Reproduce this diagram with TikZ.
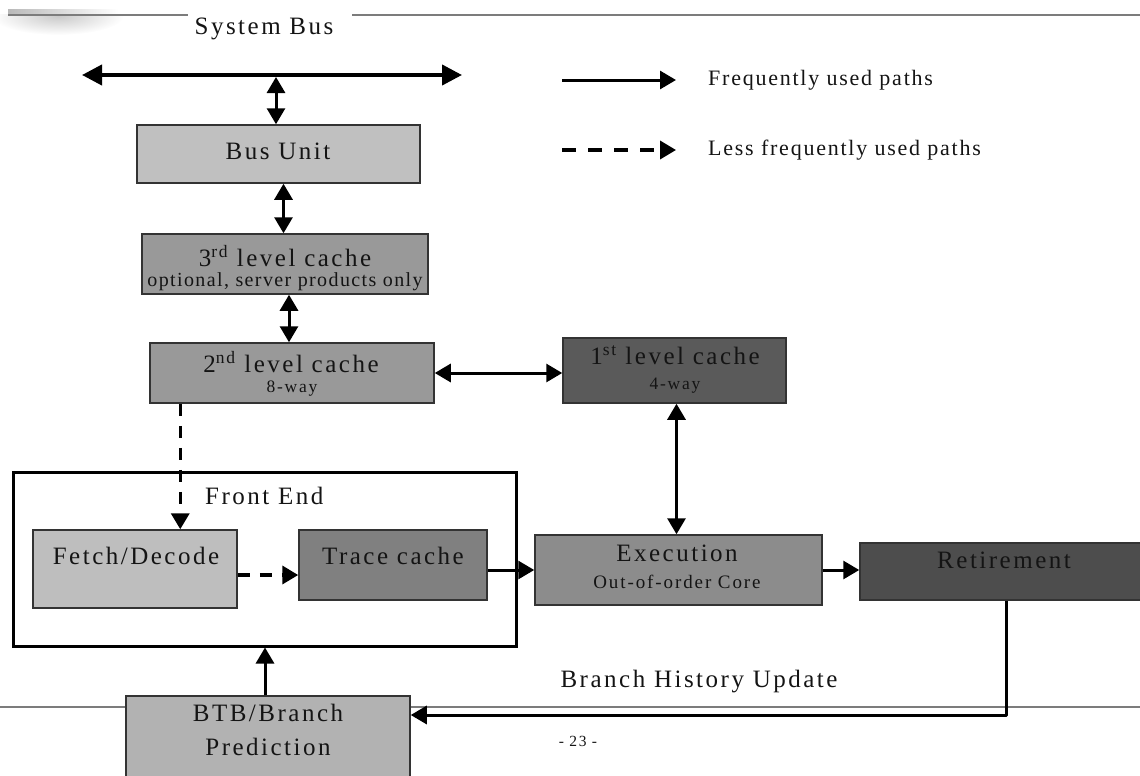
\documentclass[tikz,border=0pt]{standalone}
\usepackage{fontspec}
\setmainfont{Liberation Serif}[LetterSpace=10]
\newfontfamily\subfont{Liberation Serif}[LetterSpace=7]
\newfontfamily\legfont{Liberation Serif}[LetterSpace=8]
\usetikzlibrary{arrows.meta,fadings}

\definecolor{ink}{HTML}{141414}
\definecolor{edge}{HTML}{333333}
\definecolor{slide}{HTML}{7C7C7C}
\definecolor{cBus}{HTML}{C0C0C0}
\definecolor{cLthree}{HTML}{999999}
\definecolor{cLtwo}{HTML}{999999}
\definecolor{cLone}{HTML}{5A5A5A}
\definecolor{cFetch}{HTML}{BEBEBE}
\definecolor{cTrace}{HTML}{808080}
\definecolor{cExec}{HTML}{8C8C8C}
\definecolor{cRet}{HTML}{4D4D4D}
\definecolor{cBtb}{HTML}{B2B2B2}

\tikzset{
  >={Triangle[length=16pt,width=18pt]},
  box/.style={draw=edge, line width=1.5pt, inner sep=0pt},
  lbl/.style={text=ink, inner sep=0pt, font=\fontsize{25}{27}\selectfont},
  sub/.style={text=ink, inner sep=0pt, font=\fontsize{17.5}{19}\selectfont},
  arr/.style={draw=black, line width=3pt, ->},
  dbl/.style={draw=black, line width=3pt, <->},
  dsh/.style={draw=black, line width=3.5pt, dash pattern=on 12pt off 10pt, ->},
}

\begin{document}
\begin{tikzpicture}[x=1pt,y=-1pt]
\useasboundingbox (0,0) rectangle (1140,776);
\clip (0,0) rectangle (1140,776);

% slide decoration: soft shadow round the top rule, rule at the foot
\begin{scope}
  \clip (0,15) rectangle (160,45);
  \shade[inner color=gray!42, outer color=white] (58,16) ellipse (66 and 19);
\end{scope}
\fill[gray!55, path fading=east] (8,9) rectangle (118,15);
\draw[slide, line width=2.5pt] (8,15) -- (188,15);
\draw[slide, line width=2pt] (352,15) -- (1140,15);
\draw[slide, line width=1.5pt] (0,707) -- (1140,707);

% title and legend
\node[lbl] (title) at (264,29) {System Bus};
\coordinate (legA1) at (562,80);
\coordinate (legA2) at (676,80);
\coordinate (legB1) at (562,150);
\coordinate (legB2) at (676,150);
\draw[arr] (legA1) -- (legA2);
\draw[dsh, dash pattern=on 14pt off 12pt] (legB1) -- (legB2);
\node[lbl, anchor=west, font=\fontsize{22}{24}\selectfont\legfont] (legAt) at (708,80) {Frequently used paths};
\node[lbl, anchor=west, font=\fontsize{22}{24}\selectfont\legfont] (legBt) at (708,150) {Less frequently used paths};

% system bus
\coordinate (busL) at (82,75);
\coordinate (busR) at (462,75);
\coordinate (busJ) at (276,77);
\draw[line width=4pt, {Triangle[length=20pt,width=20pt]}-{Triangle[length=20pt,width=20pt]}] (busL) -- (busR);

% front end frame
\node[draw=black, fill=white, line width=3pt, minimum width=503pt, minimum height=174pt] (fe) at (264.5,559) {};
\node[lbl, anchor=west] (feT) at (205,496) {Front End};

% units
\node[box, fill=cBus, minimum width=283pt, minimum height=58pt] (bu) at (278.5,154) {};
\node[lbl] (buT) at (278,151) {Bus Unit};

\node[box, fill=cLthree, minimum width=286pt, minimum height=60pt] (l3) at (285,264) {};
\node[lbl] (l3T) at (285,256) {3\textsuperscript{rd} level cache};
\node[sub, font=\fontsize{20}{22}\selectfont\subfont] (l3S) at (285,282) {optional, server products only};

\node[box, fill=cLtwo, minimum width=284pt, minimum height=60pt] (l2) at (292,373) {};
\node[lbl] (l2T) at (291,362) {2\textsuperscript{nd} level cache};
\node[sub] (l2S) at (292,389) {8-way};

\node[box, fill=cLone, minimum width=223pt, minimum height=65pt] (l1) at (674.5,370.5) {};
\node[lbl] (l1T) at (675,355) {1\textsuperscript{st} level cache};
\node[sub] (l1S) at (675,386) {4-way};

\node[box, fill=cFetch, minimum width=204pt, minimum height=78pt] (fd) at (135,569) {};
\node[lbl] (fdT) at (136,556) {Fetch/Decode};

\node[box, fill=cTrace, minimum width=188pt, minimum height=70pt] (tc) at (393,565) {};
\node[lbl] (tcT) at (393,556) {Trace cache};

\node[box, fill=cExec, minimum width=287pt, minimum height=70pt] (ex) at (678.5,570) {};
\node[lbl] (exT) at (677,553) {Execution};
\node[sub, font=\fontsize{19}{21}\selectfont] (exS) at (677,582) {Out-of-order Core};

\node[box, fill=cRet, minimum width=300pt, minimum height=57pt] (ret) at (1010,571.5) {};
\node[lbl] (retT) at (1004,560) {Retirement};

\node[box, fill=cBtb, minimum width=284pt, minimum height=110pt] (btb) at (268,751) {};
\node[lbl] (btbT) at (268,713) {BTB/Branch};
\node[lbl] (btbU) at (268,747) {Prediction};

\node[lbl] (bhu) at (699,682) {Branch History Update};
\node[sub, font=\fontsize{15.5}{17}\selectfont] (page) at (578,741) {- 23 -};

% connection points
\coordinate (buS) at ([xshift=5pt]bu.south);
\coordinate (lthreeS) at ([xshift=4pt]l3.south);
\coordinate (loneS) at ([xshift=2pt]l1.south);
\coordinate (tcOut) at ([yshift=-5pt]tc.east);
\coordinate (fdOut) at ([yshift=-6pt]fd.east);
\coordinate (btbN) at ([xshift=-3pt]btb.north);
\coordinate (ltwoS) at ([xshift=31pt]l2.south west);
\coordinate (bend) at (1006,715);

% frequently used paths
\draw[dbl] (busJ) -- (busJ |- bu.north);
\draw[dbl] (buS) -- (buS |- l3.north);
\draw[dbl] (lthreeS) -- (lthreeS |- l2.north);
\draw[dbl] (l2.east) -- (l1.west |- l2.east);
\draw[dbl] (loneS) -- (loneS |- ex.north);
\draw[arr] (tcOut) -- (ex.west |- tcOut);
\draw[arr] (ex.east) -- (ret.west |- ex.east);
\draw[arr, line join=round] (ret.south -| bend) -- (bend) -- (btb.east |- bend);
\draw[arr] (btbN) -- (btbN |- fe.south);

% less frequently used paths
\draw[dsh] (ltwoS) -- (ltwoS |- fd.north);
\draw[dsh] (fdOut) -- (tc.west |- fdOut);
\end{tikzpicture}
\end{document}
